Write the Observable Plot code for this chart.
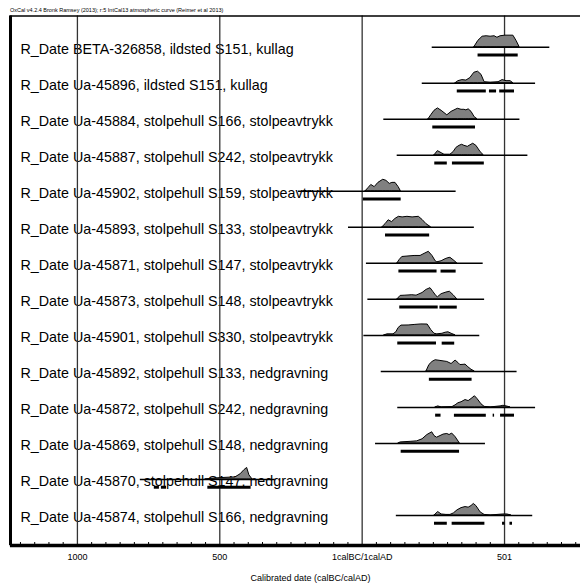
<!DOCTYPE html>
<html><head><meta charset="utf-8">
<script src="https://cdn.jsdelivr.net/npm/d3@7"></script>
<script src="https://cdn.jsdelivr.net/npm/@observablehq/plot@0.6"></script>
<style>
body{margin:0;background:#fff;font-family:"Liberation Sans",Arial,sans-serif;}
#title{font-size:5.5px;height:7px;line-height:7px;padding:7px 0 0 10px;white-space:nowrap;color:#000;}
#chart svg{display:block;overflow:hidden;}
</style></head><body>
<div id="title">OxCal v4.2.4 Bronk Ramsey (2013); r:5 IntCal13 atmospheric curve (Reimer et al 2013)</div>
<div id="chart"></div>
<script>
// Row labels (top to bottom)
const rowLabels = [
  "R_Date BETA-326858, ildsted S151, kullag",
  "R_Date Ua-45896, ildsted S151, kullag",
  "R_Date Ua-45884, stolpehull S166, stolpeavtrykk",
  "R_Date Ua-45887, stolpehull S242, stolpeavtrykk",
  "R_Date Ua-45902, stolpehull S159, stolpeavtrykk",
  "R_Date Ua-45893, stolpehull S133, stolpeavtrykk",
  "R_Date Ua-45871, stolpehull S147, stolpeavtrykk",
  "R_Date Ua-45873, stolpehull S148, stolpeavtrykk",
  "R_Date Ua-45901, stolpehull S330, stolpeavtrykk",
  "R_Date Ua-45892, stolpehull S133, nedgravning",
  "R_Date Ua-45872, stolpehull S242, nedgravning",
  "R_Date Ua-45869, stolpehull S148, nedgravning",
  "R_Date Ua-45870, stolpehull S147, nedgravning",
  "R_Date Ua-45874, stolpehull S166, nedgravning"
];

// Calendar years (negative = calBC, 0 = 1calBC/1calAD boundary)
const densityYears = [
  [394,408,423,437,451,465,475,486,503,531,542,553],
  [328,338,352,366,380,394,407,419,430,451,479,493,507,521,531],
  [233,243,254,266,279,299,314,336,349,359,366,374,384,395,405],
  [254,266,279,289,310,321,331,342,351,359,371,380,390,401,416,427],
  [12,22,32,44,57,74,85,97,106,117,128,136],
  [71,82,93,105,117,129,142,159,177,199,212,226,242],
  [124,131,141,159,184,205,219,234,247,258,264,279,293,303,310,321,334],
  [124,135,152,176,191,212,226,240,250,261,266,279,296,308,321,334],
  [78,89,110,120,128,138,163,187,208,230,243,254,264,282,293,303,314,328],
  [226,236,247,258,275,299,314,328,338,345,356,363,373,384,395],
  [258,267,279,317,328,338,349,363,374,384,396,405,419,430,451,486,496,507,521],
  [128,135,170,193,212,229,246,254,263,275,286,299,307,316,328,343],
  [-550,-515,-480,-445,-427,-413,-404,-396,-385],
  [254,267,279,296,310,322,335,349,363,374,384,392,401,416,430,451,496,510,524]
];
// Relative probability (1 = tallest peak)
const densityProb = [
  [0,.55,.91,.95,.91,.95,.82,.95,1,1,.55,0],
  [0,.18,.27,.23,.45,.91,1,.73,.09,.05,.09,.27,.18,.18,0],
  [0,.36,.73,.94,.73,.34,.64,.91,.82,.82,.77,.86,.64,.18,0],
  [0,.36,.18,.05,.05,.27,.64,.82,.91,.82,.73,.86,1,.82,.27,0],
  [0,.27,.55,.36,.73,1,.91,.64,.73,.73,.36,0],
  [0,.27,.61,.45,.73,.91,.86,.91,.86,.91,.64,.27,0],
  [0,.27,.55,.59,.64,.64,.82,1,.64,.18,.09,.18,.36,.45,.48,.27,0],
  [0,.3,.32,.36,.32,.55,.82,.97,.64,.27,.18,.45,.59,.66,.36,0],
  [0,.09,.09,.27,.64,.85,.86,.91,.95,.94,.45,.14,.09,.14,.23,.27,.14,0],
  [0,.55,.82,.97,.91,.82,.64,.94,.73,.55,.57,.59,.36,.14,0],
  [0,.09,0,.03,.18,.36,.45,.64,.55,.73,.97,.73,.27,.05,0,.09,.14,.09,0],
  [0,.09,.14,.18,.36,.73,.97,.64,.5,.64,.77,.82,.73,.86,.55,0],
  [0,.09,.14,.18,.45,.82,1,.36,0],
  [0,.3,.09,.05,.05,.18,.45,.64,.73,.68,.82,1,.82,.27,.05,0,.09,.09,0]
];
// Extent of each calibrated curve's baseline
const curveStart = [246,211,76,123,-224,-48,15,20,6,67,125,47,-779,120];
const curveEnd   = [659,609,554,582,330,394,425,430,413,544,609,433,-305,599];
// 95.4% ranges per row
const rangeStart = [[407],[334,447,483],[248],[255,317],[4],[82],[129,277],[132,273],[125,281],[236],[258,324,460,486],[137],[-730,-705,-542],[254,316,493,519]];
const rangeEnd   = [[548],[436,472,535],[398],[299,429],[137],[237],[263,330],[267,334],[261,325],[386],[277,436,465,535],[342],[-712,-687,-390],[299,431,502,528]];
// Axis ticks
const majorTicks = [-1000, -500, 0, 500];
const majorTickLabels = ["1000", "500", "1calBC/1calAD", "501"];
const minorTicks = d3.range(-1200, 801, 50).filter(t => !majorTicks.includes(t));
const xTitle = "Calibrated date (calBC/calAD)";

// Tables for the marks
const density = [];
densityYears.forEach((ys, r) => ys.forEach((y, j) => density.push({row: r, year: y, p: densityProb[r][j]})));
const curves = rowLabels.map((l, r) => ({row: r, start: curveStart[r], end: curveEnd[r]}));
const ranges = [];
rangeStart.forEach((s, r) => s.forEach((v, j) => ranges.push({row: r, start: v, end: rangeEnd[r][j]})));

const xDomain = [-1235, 837];
const yDomain = [-0.866, 13.833];
const peakRows = 0.32;      // height of tallest peak in row units
const rangeOffset = 0.215;  // range bars below the curve

const chart = Plot.plot({
  width: 580,
  height: 571,
  marginLeft: 10,
  marginRight: -20,
  marginTop: 1.5,
  marginBottom: 40,
  style: {fontFamily: "'Liberation Sans', Arial, sans-serif", background: "#fff", color: "#000"},
  x: {domain: xDomain},
  y: {domain: yDomain, reverse: true, axis: null},
  marks: [
    Plot.text(rowLabels, {frameAnchor: "left", y: (d, i) => i, text: d => d, dx: 10, dy: 2, textAnchor: "start", fontSize: 14.3, fill: "#000"}),
    Plot.ruleX(majorTicks, {stroke: "#333", strokeWidth: 1.3}),
    Plot.ruleX(minorTicks, {insetTop: 526.5, stroke: "#000", strokeWidth: 1}),
    Plot.areaY(density, {x: "year", y1: "row", y2: d => d.row - d.p * peakRows, z: "row", fill: "#808080", stroke: "#000", strokeWidth: 1}),
    Plot.ruleY(curves, {y: "row", x1: "start", x2: "end", stroke: "#000", strokeWidth: 1.5}),
    Plot.ruleY(ranges, {y: d => d.row + rangeOffset, x1: "start", x2: "end", stroke: "#000", strokeWidth: 3}),
    Plot.frame({stroke: "#000", strokeWidth: 1.5}),
    Plot.ruleX([xDomain[0]], {stroke: "#000", strokeWidth: 3}),
    Plot.ruleY([yDomain[1]], {stroke: "#000", strokeWidth: 3.5}),
    Plot.axisX({ticks: majorTicks, tickFormat: d => majorTickLabels[majorTicks.indexOf(d)], tickSize: 0, tickPadding: 8, fontSize: 9, label: null}),
    Plot.text([xTitle], {frameAnchor: "bottom", dy: 35, dx: 5, fontSize: 9, fill: "#000"})
  ]
});
document.getElementById("chart").appendChild(chart);
</script></body></html>
